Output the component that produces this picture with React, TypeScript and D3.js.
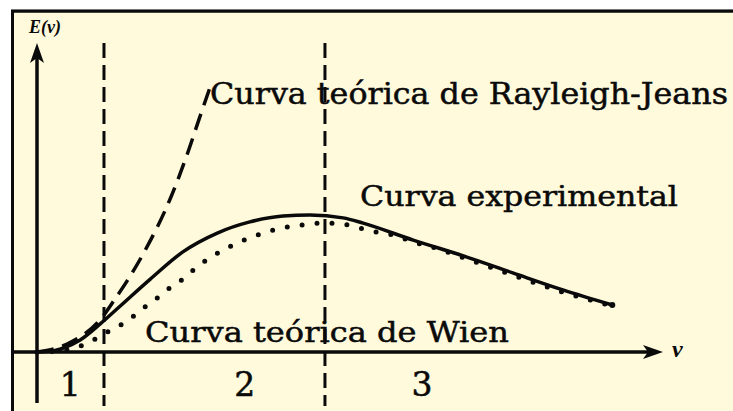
import React from "react";
import * as d3 from "d3";

// frequency ν (arbitrary units) and energy E(ν) (arbitrary units)
const experimentalNu = [0, 0.24, 0.42, 0.69, 1.01, 1.33, 1.81, 2.33, 2.88, 3.4, 3.93, 4.36, 4.89, 5.21, 6.01, 6.81, 7.6, 8.4, 9.19];
const experimentalE = [0, 0.03, 0.13, 0.39, 0.91, 1.49, 2.36, 3.24, 3.85, 4.21, 4.4, 4.43, 4.34, 4.17, 3.62, 3.11, 2.56, 2.01, 1.52];

const rayleighNu = [0, 0.48, 1.07, 1.22, 1.44, 1.73, 2.12, 2.4, 2.6, 2.76];
const rayleighE = [0, 0.26, 1.2, 1.64, 2.3, 3.3, 4.92, 6.4, 7.6, 8.54];

const wienNu = [0, 0.3, 0.65, 0.93, 1.18, 1.44, 1.66, 1.88, 2.1, 2.33, 2.57, 2.81, 3.07, 3.35, 3.62, 3.91, 4.23, 4.54, 4.84, 5.16, 5.43, 5.72, 6.01, 6.31, 6.81, 7.6, 8.4, 9.19];
const wienE = [0, 0.03, 0.16, 0.42, 0.71, 1.0, 1.36, 1.68, 2.04, 2.36, 2.78, 3.11, 3.4, 3.66, 3.85, 4.01, 4.11, 4.17, 4.15, 4.01, 3.88, 3.77, 3.56, 3.4, 3.05, 2.49, 1.94, 1.49];

const regionBounds = [1.07, 4.6]; // ν at the dashed separators
const regionLabels = ["1", "2", "3"];
const regionCenters = [0.53, 3.32, 6.15];

const curveLabels = ["Curva teórica de Rayleigh-Jeans", "Curva experimental", "Curva teórica de Wien"];

const W = 733;
const H = 411;
const BG = "#FFFADC";
const INK = "#0a0a0a";

export default function App() {
  const x = d3.scaleLinear().domain([0, 10]).range([37, 663]);
  const y = d3.scaleLinear().domain([0, 10]).range([352, 43]);

  const line = d3
    .line<[number, number]>()
    .x((d) => x(d[0]))
    .y((d) => y(d[1]))
    .curve(d3.curveMonotoneX);

  const zip = (a: number[], b: number[]) => a.map((v, i) => [v, b[i]] as [number, number]);
  const exp = zip(experimentalNu, experimentalE);
  const rj = zip(rayleighNu, rayleighE);
  const wien = zip(wienNu, wienE);

  const serif = "'DejaVu Serif', serif";
  const lastExp = exp[exp.length - 1];
  const textProps = { fontFamily: serif, fill: INK, stroke: INK, strokeWidth: 0.5 };

  return (
    <svg
      width={W}
      height={H}
      style={{ position: "absolute", left: 0, top: 0, background: "#fff" }}
    >
      <rect x={12} y={11} width={W - 12} height={H - 11} fill={BG} />
      {/* frame */}
      <line x1={11} y1={9.5} x2={W} y2={9.5} stroke="#999" strokeWidth={1} />
      <line x1={11} y1={11.3} x2={W} y2={11.3} stroke={INK} strokeWidth={3} />
      <line x1={12.5} y1={10} x2={12.5} y2={H} stroke={INK} strokeWidth={3} />

      {/* texts */}
      <text x={210} y={104} fontSize={29} textLength={518} lengthAdjust="spacingAndGlyphs" {...textProps}>
        {curveLabels[0]}
      </text>
      <text x={360} y={206} fontSize={28} textLength={318} lengthAdjust="spacingAndGlyphs" {...textProps}>
        {curveLabels[1]}
      </text>
      <text x={145} y={342} fontSize={28} textLength={364} lengthAdjust="spacingAndGlyphs" {...textProps}>
        {curveLabels[2]}
      </text>

      {/* axes */}
      <line x1={12} y1={y(0)} x2={x(10) - 14} y2={y(0)} stroke={INK} strokeWidth={3.5} />
      <path d={`M${x(10)},${y(0)} L${x(10) - 20},${y(0) - 7} L${x(10) - 15},${y(0)} L${x(10) - 20},${y(0) + 7} Z`} fill={INK} />
      <line x1={x(0)} y1={403} x2={x(0)} y2={y(10) + 14} stroke={INK} strokeWidth={3.5} />
      <path d={`M${x(0)},${y(10)} L${x(0) - 7},${y(10) + 20} L${x(0)},${y(10) + 15} L${x(0) + 7},${y(10) + 20} Z`} fill={INK} />
      <text x={29} y={33} fontFamily="'Liberation Serif', serif" fontStyle="italic" fontWeight="bold" fontSize={18} fill={INK}>
        E(ν)
      </text>
      <text x={672} y={357} fontFamily="'Liberation Serif', serif" fontStyle="italic" fontWeight="bold" fontSize={24} fill={INK}>
        ν
      </text>

      {/* region numbers */}
      {regionLabels.map((t, i) => (
        <text key={t} x={x(regionCenters[i])} y={396} textAnchor="middle" fontSize={33} {...textProps}>
          {t}
        </text>
      ))}

      {/* curves */}
      <path d={line(wien) || ""} fill="none" stroke={INK} strokeWidth={5} strokeLinecap="round" strokeDasharray="0 15" />
      <path d={line(rj) || ""} fill="none" stroke={INK} strokeWidth={3.5} strokeDasharray="17 9" />
      <path d={line(exp) || ""} fill="none" stroke={INK} strokeWidth={3.5} />
      <circle cx={x(lastExp[0])} cy={y(lastExp[1])} r={3} fill={INK} />

      {/* separators */}
      {regionBounds.map((b) => (
        <line key={b} x1={x(b)} y1={43} x2={x(b)} y2={406} stroke={INK} strokeWidth={3} strokeDasharray="15 7" />
      ))}
    </svg>
  );
}
